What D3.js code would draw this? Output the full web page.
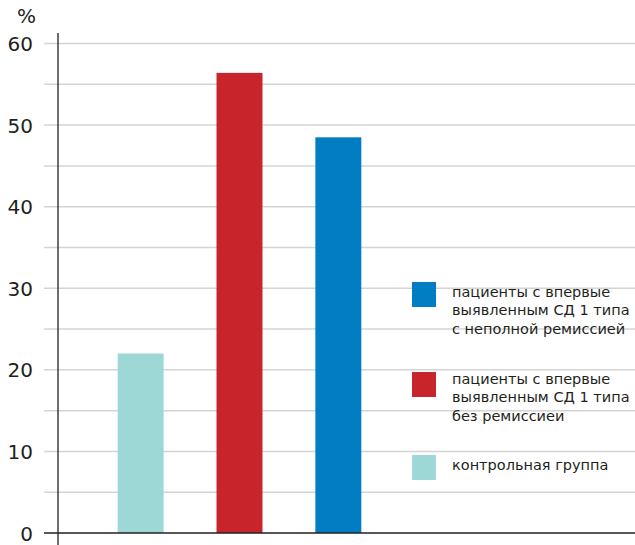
<!DOCTYPE html>
<html><head><meta charset="utf-8">
<script src="https://cdn.jsdelivr.net/npm/d3@7"></script>
<style>body{margin:0;background:#fff}text{font-family:"DejaVu Sans",sans-serif;fill:#231f20}</style>
</head><body><svg id="c" width="635" height="545"></svg>
<script>
const categories = ["контрольная группа","без ремиссии","с неполной ремиссией"];
const values = [22, 56.4, 48.5];
const colors = ["#9dd8d6","#c8242b","#007dc3"];
const yTicks = [0,10,20,30,40,50,60];
const legendLabels = [
  ["пациенты с впервые","выявленным СД 1 типа","с неполной ремиссией"],
  ["пациенты с впервые","выявленным СД 1 типа","без ремиссиеи"],
  ["контрольная группа"]
];
const legendColors = ["#007dc3","#c8242b","#9dd8d6"];

const svg = d3.select("#c");
const y = d3.scaleLinear().domain([0,60]).range([533,43.5]);
const x = d3.scaleBand().domain(categories).range([91,388]).paddingInner(0.535).paddingOuter(0.27);

svg.append("g").selectAll("line").data(d3.range(5,61,5)).join("line")
  .attr("x1",44).attr("x2",635).attr("y1",d=>y(d)).attr("y2",d=>y(d))
  .attr("stroke","#d4d4d4").attr("stroke-width",1.5);

svg.append("g").selectAll("rect").data(values).join("rect")
  .attr("x",(d,i)=>x(categories[i])).attr("width",x.bandwidth())
  .attr("y",d=>y(d)).attr("height",d=>y(0)-y(d)).attr("fill",(d,i)=>colors[i]);

svg.append("line").attr("x1",44).attr("x2",635).attr("y1",y(0)).attr("y2",y(0)).attr("stroke","#231f20").attr("stroke-width",1.5);
svg.append("line").attr("x1",58).attr("x2",58).attr("y1",33).attr("y2",545).attr("stroke","#231f20").attr("stroke-width",1.3);

svg.append("g").selectAll("text").data(yTicks).join("text")
  .attr("x",33).attr("y",d=>y(d)+7.5).attr("text-anchor","end")
  .style("font-size","20px").text(d=>d);
svg.append("text").attr("x",36).attr("y",23).attr("text-anchor","end").style("font-size","20px").text("%");

const lg = svg.append("g");
const ly = [282,372,455];
const tb = [296.5,383.5,470];
legendLabels.forEach((lines,i)=>{
  lg.append("rect").attr("x",412).attr("y",ly[i]).attr("width",24).attr("height",25).attr("fill",legendColors[i]);
  lines.forEach((t,j)=>{
    lg.append("text").attr("x",452).attr("y",tb[i]+j*18.5).style("font-size","14.5px").text(t);
  });
});
</script></body></html>
